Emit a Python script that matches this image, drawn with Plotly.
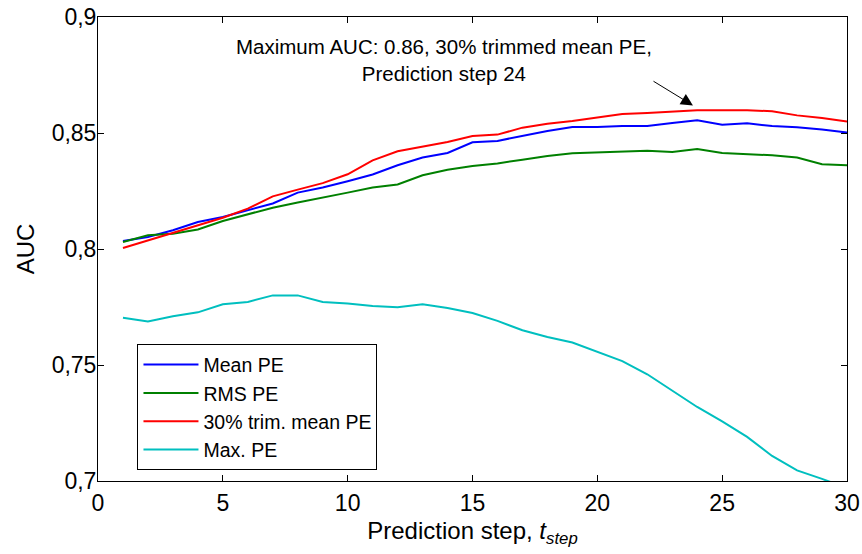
import plotly.graph_objects as go

steps = list(range(1, 31))

mean_pe = [0.8034, 0.8052, 0.8081, 0.8116, 0.8138, 0.8167, 0.8196, 0.8243, 0.8265, 0.8292,
           0.8321, 0.8361, 0.8394, 0.8414, 0.8460, 0.8466, 0.8487, 0.8509, 0.8526, 0.8526,
           0.8530, 0.8530, 0.8543, 0.8555, 0.8536, 0.8542, 0.8530, 0.8525, 0.8515, 0.8502]

rms_pe = [0.8030, 0.8059, 0.8066, 0.8084, 0.8121, 0.8150, 0.8178, 0.8200, 0.8220, 0.8243,
          0.8265, 0.8278, 0.8318, 0.8342, 0.8358, 0.8369, 0.8385, 0.8401, 0.8413, 0.8417,
          0.8418, 0.8424, 0.8418, 0.8431, 0.8414, 0.8408, 0.8404, 0.8394, 0.8365, 0.8361]

trim_pe = [0.8004, 0.8037, 0.8069, 0.8102, 0.8135, 0.8174, 0.8227, 0.8256, 0.8284, 0.8322,
           0.8382, 0.8421, 0.8440, 0.8461, 0.8487, 0.8493, 0.8523, 0.8540, 0.8552, 0.8566,
           0.8582, 0.8586, 0.8592, 0.8598, 0.8598, 0.8598, 0.8594, 0.8576, 0.8565, 0.8549]

max_pe = [0.7704, 0.7688, 0.7710, 0.7727, 0.7762, 0.7772, 0.7800, 0.7800, 0.7772, 0.7765,
          0.7754, 0.7749, 0.7762, 0.7746, 0.7724, 0.7690, 0.7650, 0.7621, 0.7597, 0.7556,
          0.7517, 0.7460, 0.7391, 0.7319, 0.7257, 0.7190, 0.7108, 0.7046, 0.7009, 0.6970]

series_names = ["Mean PE", "RMS PE", "30% trim. mean PE", "Max. PE"]
series_colors = ["#0000FF", "#008000", "#FF0000", "#00BFBF"]

x_ticks = [0, 5, 10, 15, 20, 25, 30]
y_ticks = [0.7, 0.75, 0.8, 0.85, 0.9]
y_tick_text = ["0,7", "0,75", "0,8", "0,85", "0,9"]

FONT = "Liberation Sans, Arial, sans-serif"

fig = go.Figure()
for name, vals, col in zip(series_names, [mean_pe, rms_pe, trim_pe, max_pe], series_colors):
    fig.add_trace(go.Scatter(x=steps, y=vals, mode="lines", name=name,
                             line=dict(color=col, width=2)))

axis_common = dict(showline=True, linecolor="black", linewidth=1, mirror="ticks",
                   ticks="inside", ticklen=6, tickcolor="black", tickwidth=1,
                   showgrid=False, zeroline=False, automargin=False,
                   ticklabeloverflow="allow",
                   tickfont=dict(family=FONT, size=23, color="black"))

fig.update_xaxes(range=[0, 30], tickvals=x_ticks, **axis_common, ticklabelstandoff=1,
                 title=dict(text="Prediction step, <i>t</i><sub><i>step</i></sub>",
                            font=dict(family=FONT, size=24, color="black"), standoff=7))
fig.update_yaxes(range=[0.7, 0.9], tickvals=y_ticks, ticktext=y_tick_text, **axis_common,
                 ticklabelstandoff=-4,
                 title=dict(text="AUC", font=dict(family=FONT, size=24, color="black"), standoff=10))

fig.add_annotation(x=13.84, y=0.8816, xref="x", yref="y",
                   text="Maximum AUC: 0.86, 30% trimmed mean PE,<br>Prediction step 24",
                   showarrow=False, align="center", xanchor="center", yanchor="middle",
                   font=dict(family=FONT, size=20.5, color="black"))
fig.add_annotation(x=23.83, y=0.8619, xref="x", yref="y",
                   ax=22.19, ay=0.8727, axref="x", ayref="y",
                   text="", showarrow=True, arrowhead=2, arrowsize=2.4, arrowwidth=1,
                   arrowcolor="black")

fig.update_layout(
    width=862, height=554,
    margin=dict(l=98, r=15, t=17, b=73),
    paper_bgcolor="white", plot_bgcolor="white",
    font=dict(family=FONT, size=20, color="black"),
    legend=dict(x=0.0527, y=0.2944, xanchor="left", yanchor="top",
                bgcolor="white", bordercolor="black", borderwidth=1,
                font=dict(family=FONT, size=19.5, color="black"),
                tracegroupgap=0, itemwidth=55),
)

# remove the browser's default 8px body margin so the figure fills the window exactly
fig.write_html("out.html", config={"displayModeBar": False},
               post_script="document.body.style.margin='0px';")
